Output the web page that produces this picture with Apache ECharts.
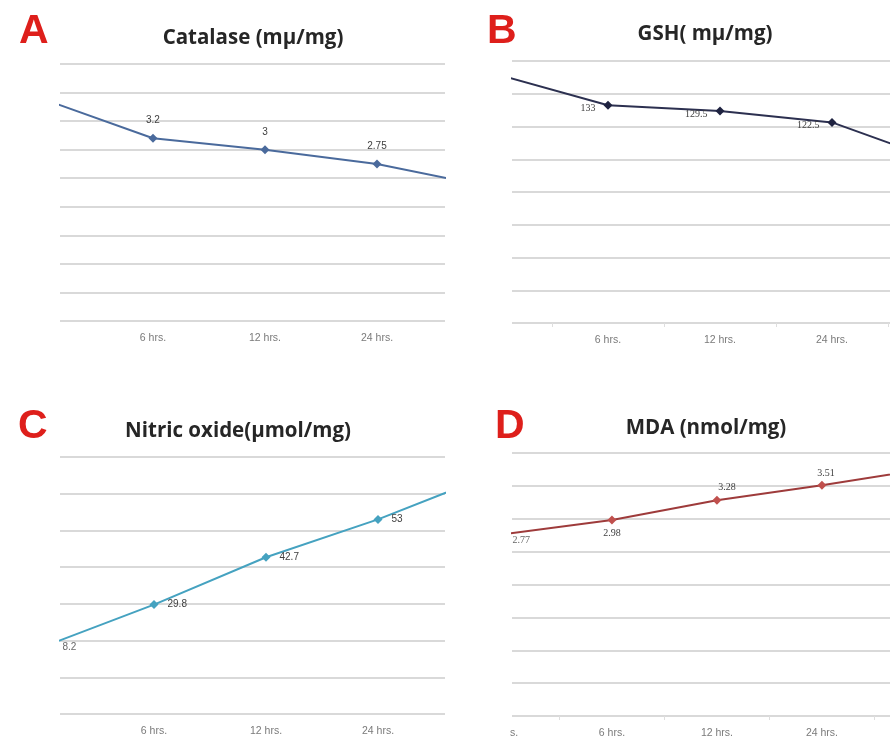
<!DOCTYPE html>
<html>
<head>
<meta charset="utf-8">
<script src="https://cdn.jsdelivr.net/npm/echarts@6/dist/echarts.min.js"></script>
<style>
  html, body { margin: 0; padding: 0; background: #ffffff; }
  #chart { width: 890px; height: 740px; }
</style>
</head>
<body>
<div id="chart"></div>
<script>
// ---- data ----
const xLabels = ['', '6 hrs.', '12 hrs.', '24 hrs.', ''];
const catalase = [3.9, 3.2, 3.0, 2.75, 2.35];
const gsh = [152, 133, 129.5, 122.5, 98];
const nitricOxide = [18.2, 29.8, 42.7, 53, 65];
const mda = [2.77, 2.98, 3.28, 3.51, 3.76];
const panelLetters = ['A', 'B', 'C', 'D'];
const panelTitles = ['Catalase (mµ/mg)', 'GSH( mµ/mg)', 'Nitric oxide(µmol/mg)', 'MDA (nmol/mg)'];
const yMin = [0, 0, 0, 0];
const yMax = [4.5, 160, 70, 4];
const yStep = [0.5, 20, 10, 0.5];
const cLeftEdgeLabel = '8.2';   // visible (cropped) label of first point in panel C
const dLeftEdgeLabel = '2.77';
const dLeftAxisLabel = 's.';    // visible (cropped) first category label in panel D

// ---- layout / style ----
const grids = [
  { left: 60,  top: 64,  width: 385, height: 257 },
  { left: 512, top: 61,  width: 378, height: 262 },
  { left: 60,  top: 457, width: 385, height: 257 },
  { left: 512, top: 453, width: 378, height: 263 }
];
// visible window of category index (panel is cropped)
const xWin = [[0.170, 3.607], [0.143, 3.518], [0.161, 3.598], [0.048, 3.648]];
const lineColors = ['#4a6a9c', '#2c3050', '#45a2c0', '#9e3b3b'];
const markColors = ['#4a6a9c', '#1e2240', '#45a2c0', '#c0504d'];
const seriesValues = [catalase, gsh, nitricOxide, mda];

const gridColor = '#d9d9d9';

const xAxes = grids.map((g, k) => {
  const isRight = k % 2 === 1;
  const labelVals = k === 3 ? [0.067, 1, 2, 3] : [1, 2, 3];
  return {
    type: 'value', gridIndex: k, min: xWin[k][0], max: xWin[k][1],
    axisLine: { show: false },
    splitLine: { show: false },
    axisTick: { show: isRight, customValues: [0.5, 1.5, 2.5, 3.5], length: 4,
      lineStyle: { color: '#dedede', width: 1 } },
    axisLabel: {
      customValues: labelVals, color: '#7a7a7a', fontSize: 10.5,
      fontFamily: 'Liberation Sans', margin: 12,
      formatter: v => (v < 0.5 ? dLeftAxisLabel : xLabels[Math.round(v)])
    }
  };
});

const yAxes = grids.map((g, k) => ({
  type: 'value', gridIndex: k, min: yMin[k], max: yMax[k], interval: yStep[k],
  axisLine: { show: false }, axisTick: { show: false }, axisLabel: { show: false },
  splitLine: { lineStyle: { color: gridColor, width: 1.8 } }
}));

const labelFonts = ['Liberation Sans', 'Liberation Serif', 'Liberation Sans', 'Liberation Serif'];
const baseLabel = [
  { position: 'top', distance: 8 },
  { position: 'left', distance: 8, offset: [0, 3] },
  { position: 'right', distance: 9 },
  { position: 'top', distance: 4 }
];
const dPointLabels = [
  {},
  { position: 'bottom', distance: 4 },
  { position: 'top', distance: 3, offset: [10, 0] },
  { position: 'top', distance: 2, offset: [4, 0] },
  {}
];

const series = seriesValues.map((vals, k) => ({
  type: 'line', xAxisIndex: k, yAxisIndex: k, clip: true,
  symbol: 'diamond', symbolSize: 9, showAllSymbol: true,
  lineStyle: { color: lineColors[k], width: 2 },
  itemStyle: { color: markColors[k] },
  label: Object.assign({ show: true, color: '#404040', fontSize: 10,
    fontFamily: labelFonts[k] }, baseLabel[k]),
  data: vals.map((v, i) => {
    const item = { value: [i, v] };
    if (k === 3) item.label = dPointLabels[i];
    return item;
  }),
  animation: false
}));

// labels of the first (cropped-away) points in panels C and D
series.push({
  type: 'scatter', xAxisIndex: 2, yAxisIndex: 2, clip: false, symbolSize: 1,
  itemStyle: { color: 'rgba(0,0,0,0)' },
  label: { show: true, position: 'right', distance: 20, color: '#404040', fontSize: 10,
    fontFamily: 'Liberation Sans', formatter: () => cLeftEdgeLabel },
  data: [[0, nitricOxide[0]]], silent: true, animation: false
});
series.push({
  type: 'scatter', xAxisIndex: 3, yAxisIndex: 3, clip: false, symbolSize: 1,
  itemStyle: { color: 'rgba(0,0,0,0)' },
  label: { show: true, position: 'right', distance: 5, offset: [0, 7], color: '#404040',
    fontSize: 10, fontFamily: 'Liberation Serif', formatter: () => dLeftEdgeLabel },
  data: [[0, mda[0]]], silent: true, animation: false
});

const letterPos = [[19, 11], [487, 11], [18, 406], [495, 406]];
const titlePos = [[253, 28], [705, 24], [238, 421], [706, 418]];
const titles = [];
panelLetters.forEach((t, k) => titles.push({
  text: t, left: letterPos[k][0], top: letterPos[k][1], padding: 0,
  textStyle: { color: '#de1f1b', fontSize: 41, fontWeight: 'bold', fontFamily: 'Liberation Sans' }
}));
panelTitles.forEach((t, k) => titles.push({
  text: t, left: titlePos[k][0], top: titlePos[k][1], padding: 0, textAlign: 'center',
  textStyle: { color: '#262626', fontSize: 20.5, fontWeight: 'bold', fontFamily: 'Open Sans' }
}));

const chart = echarts.init(document.getElementById('chart'), null, { renderer: 'canvas' });
chart.setOption({
  backgroundColor: '#ffffff',
  animation: false,
  title: titles,
  grid: grids,
  xAxis: xAxes,
  yAxis: yAxes,
  series: series
});
</script>
</body>
</html>
